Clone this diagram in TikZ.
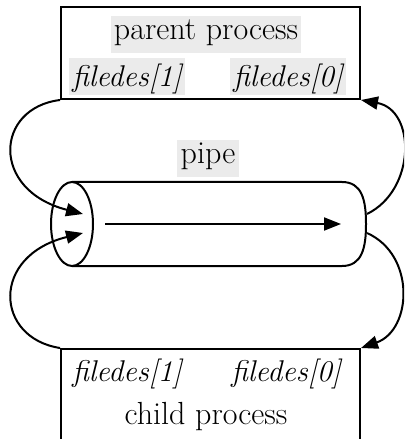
\documentclass[tikz,border=0pt]{standalone}
\usetikzlibrary{arrows.meta}
\begin{document}
\begin{tikzpicture}[x=1bp,y=-1bp,
  line width=2bp,
  tip/.style={-{Triangle[length=17bp,width=13bp]}},
  lbl/.style={anchor=base,inner ysep=0pt,inner xsep=3bp,font=\fontsize{32bp}{36bp}\selectfont},
  shade/.style={fill=black!8},
  title/.style={lbl,text height=24bp,text depth=13bp},
  fd/.style={lbl,font=\fontsize{30bp}{34bp}\selectfont\itshape,text height=29bp,text depth=8bp}]
\useasboundingbox (0,0) rectangle (404,439);
\clip (0,0) rectangle (404,439);

% process boxes
\node[draw,minimum width=299bp,minimum height=92bp,inner sep=0pt,anchor=north west] (parent) at (60,6) {};
\node[draw,minimum width=299bp,minimum height=130bp,inner sep=0pt,anchor=north west] (child) at (60,348) {};

% parent labels
\node[title,shade] (ptitle) at (206,40) {parent process};
\node[fd,shade] (pfd1) at (127,87) {filedes[1]};
\node[fd,shade] (pfd0) at (288,87) {filedes[0]};

% child labels
\node[fd] (cfd1) at (127,381) {filedes[1]};
\node[fd] (cfd0) at (286,381) {filedes[0]};
\node[title] (ctitle) at (206,424) {child process};

% pipe label
\node[title,shade,inner xsep=4bp] (plabel) at (208,164) {pipe};

% pipe body
\draw (72,182) -- (342,182) .. controls (362,182) and (366,200) .. (366,224)
      .. controls (366,248) and (362,266) .. (342,266) -- (72,266);
\draw (72,224) ellipse [x radius=21, y radius=42];
\coordinate (flowA) at (105,224);
\coordinate (flowB) at (341,224);
\draw[tip] (flowA) -- (flowB);

% pipe ends
\coordinate (inA) at (83,214);
\coordinate (inB) at (83,233);
\coordinate (outA) at (367,214);
\coordinate (outB) at (367,233);

% connectors
\draw[tip] (parent.south west) .. controls (-5,108) and (-10,190) .. (inA);
\draw[tip] (child.north west) .. controls (-5,338) and (-10,256) .. (inB);
\draw[tip] (outA) .. controls (416,190) and (416,110) .. (parent.south east);
\draw[tip] (outB) .. controls (416,255) and (412,330) .. (child.north east);
\end{tikzpicture}
\end{document}
